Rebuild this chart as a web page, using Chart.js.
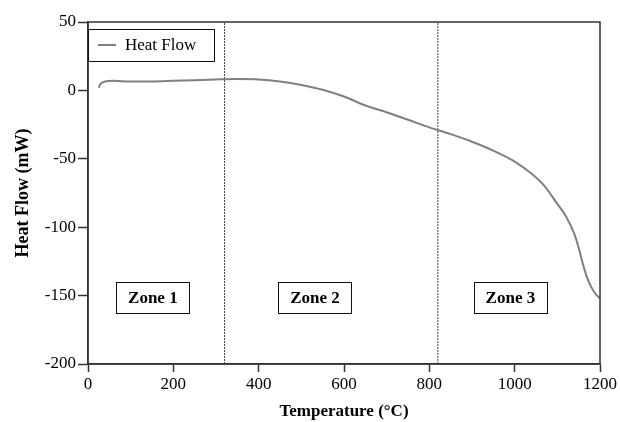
<!DOCTYPE html>
<html>
<head>
<meta charset="utf-8">
<script src="https://cdn.jsdelivr.net/npm/chart.js@4/dist/chart.umd.min.js"></script>
<style>
  html, body { margin: 0; padding: 0; background: #fff; }
  #wrap { width: 620px; height: 422px; }
</style>
</head>
<body>
<div id="wrap"><canvas id="c" width="620" height="422"></canvas></div>
<script>
// DSC trace: temperature (°C) vs heat flow (mW)
const temps = [25, 30, 40, 60, 100, 150, 200, 250, 300, 350, 400, 450, 500, 550, 600, 650, 700, 750, 800, 850, 900, 950, 1000, 1040, 1070, 1100, 1120, 1140, 1150, 1160, 1170, 1180, 1190, 1200];
const heatFlow = [2, 5, 6.5, 7, 6.5, 6.5, 7, 7.5, 8, 8.3, 8, 6.5, 4, 0.5, -4.5, -11, -16, -21.5, -27, -32, -37.5, -44, -52, -61, -70, -83, -92, -105, -115, -127, -137, -144, -149, -152];

// Zone boundaries and label placement
const zoneBounds = [320, 820];
const zoneNames = ['Zone 1', 'Zone 2', 'Zone 3'];
const zoneCenters = [152, 532, 990];
const zoneLabelY = -151.5;

const xTicks = [0, 200, 400, 600, 800, 1000, 1200];
const yTicks = [-200, -150, -100, -50, 0, 50];

const serif = '"Liberation Serif", "Times New Roman", serif';

const boundaryDatasets = zoneBounds.map(t => ({
  label: 'boundary',
  data: [{ x: t, y: -200 }, { x: t, y: 50 }],
  borderColor: '#444',
  borderWidth: 1,
  borderDash: [2, 1],
  pointRadius: 0,
  fill: false
}));

const overlay = {
  id: 'overlay',
  afterDatasetsDraw(chart) {
    const { ctx, chartArea: a, scales } = chart;
    const xs = scales.x, ys = scales.y;
    ctx.save();
    // frame
    ctx.strokeStyle = '#333';
    ctx.lineWidth = 1.5;
    ctx.strokeRect(a.left, a.top, a.right - a.left, a.bottom - a.top);

    // zone labels
    ctx.font = 'bold 17px ' + serif;
    ctx.textAlign = 'center';
    ctx.textBaseline = 'middle';
    zoneNames.forEach((name, i) => {
      const cx = xs.getPixelForValue(zoneCenters[i]);
      const cy = ys.getPixelForValue(zoneLabelY);
      const w = 73, h = 31;
      ctx.fillStyle = '#fff';
      ctx.fillRect(cx - w / 2, cy - h / 2, w, h);
      ctx.strokeStyle = '#111';
      ctx.lineWidth = 1;
      ctx.strokeRect(Math.round(cx - w / 2) + 0.5, Math.round(cy - h / 2) + 0.5, w, h);
      ctx.fillStyle = '#000';
      ctx.fillText(name, cx, cy + 1);
    });

    // legend
    const lx = a.left, ly = a.top + 7, lw = 126, lh = 32;
    ctx.fillStyle = '#fff';
    ctx.fillRect(lx, ly, lw, lh);
    ctx.strokeStyle = '#111';
    ctx.lineWidth = 1;
    ctx.strokeRect(lx + 0.5, ly + 0.5, lw, lh);
    ctx.strokeStyle = '#808080';
    ctx.lineWidth = 2;
    ctx.beginPath();
    ctx.moveTo(lx + 10, ly + 16);
    ctx.lineTo(lx + 28, ly + 16);
    ctx.stroke();
    ctx.fillStyle = '#000';
    ctx.font = '17px ' + serif;
    ctx.textAlign = 'left';
    ctx.fillText(chart.data.datasets[0].label, lx + 37, ly + 17);
    ctx.restore();
  }
};

new Chart(document.getElementById('c'), {
  type: 'line',
  data: {
    datasets: [{
      label: 'Heat Flow',
      data: temps.map((t, i) => ({ x: t, y: heatFlow[i] })),
      borderColor: '#808080',
      borderWidth: 2,
      pointRadius: 0,
      cubicInterpolationMode: 'monotone',
      fill: false
    }, ...boundaryDatasets]
  },
  options: {
    responsive: false,
    animation: false,
    layout: { padding: { left: 0, right: 20, top: 22, bottom: 0 } },
    plugins: { legend: { display: false }, tooltip: { enabled: false } },
    scales: {
      x: {
        type: 'linear',
        min: 0, max: 1200,
        afterBuildTicks: s => { s.ticks = xTicks.map(v => ({ value: v })); },
        afterFit: s => { s.height = 58; },
        grid: { drawOnChartArea: false, tickLength: 8, color: '#333', tickWidth: 1.5 },
        border: { color: '#333', width: 1.5 },
        ticks: { color: '#000', font: { family: serif, size: 17 }, padding: 2, maxRotation: 0, callback: v => String(v) },
        title: { display: true, text: 'Temperature (°C)', color: '#000', font: { family: serif, size: 17, weight: 'bold' }, padding: { top: 2, bottom: 0 } }
      },
      y: {
        min: -200, max: 50,
        afterBuildTicks: s => { s.ticks = yTicks.map(v => ({ value: v })); },
        afterFit: s => { s.width = 88; },
        grid: { drawOnChartArea: false, tickLength: 10, color: '#333', tickWidth: 1.5 },
        border: { color: '#333', width: 1.5 },
        ticks: { color: '#000', font: { family: serif, size: 17 }, padding: 2, callback: v => String(v) },
        title: { display: true, text: 'Heat Flow (mW)', color: '#000', font: { family: serif, size: 18, weight: 'bold' }, padding: { top: 13, bottom: 0 } }
      }
    }
  },
  plugins: [overlay]
});
</script>
</body>
</html>
